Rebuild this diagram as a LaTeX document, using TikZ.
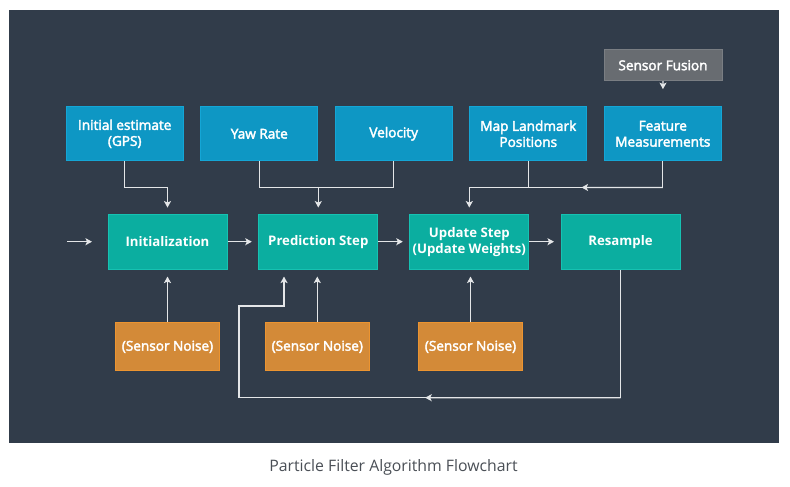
\documentclass[tikz,border=0pt]{standalone}
\usepackage{fontspec}
\setmainfont{Open Sans}
\newcommand\semib{\special{pdf:literal direct 2 Tr 0.38 w 1 1 1 RG}}
\usetikzlibrary{arrows.meta,calc}
\definecolor{bg}{HTML}{313C4A}
\definecolor{cblue}{HTML}{0E97C4}
\definecolor{cblueb}{HTML}{14A6D6}
\definecolor{cteal}{HTML}{0BAEA0}
\definecolor{ctealb}{HTML}{16C2B2}
\definecolor{corange}{HTML}{D38A38}
\definecolor{corangeb}{HTML}{EC9430}
\definecolor{cgray}{HTML}{686C71}
\definecolor{cgrayb}{HTML}{7A7E83}
\definecolor{cline}{HTML}{E4E6E8}
\definecolor{ccap}{HTML}{4A4F56}
\tikzset{
  box/.style={draw, line width=1pt, text=white, align=center, inner sep=0pt,
    font=\fontsize{13.6}{16}\selectfont},
  softtext/.style={execute at begin node=\semib, execute at end node=\special{pdf:literal direct 0 Tr}},
  inbox/.style={box, softtext, fill=cblue, draw=cblueb, minimum width=117.3pt, minimum height=54.3pt},
  stepbox/.style={box, fill=cteal, draw=ctealb, minimum width=119pt, minimum height=55.3pt,
    font=\fontsize{13.2}{16}\bfseries},
  noisebox/.style={box, softtext, fill=corange, draw=corangeb, minimum width=103.7pt, minimum height=48.3pt},
  fusebox/.style={box, softtext, fill=cgray, draw=cgrayb, minimum width=118pt, minimum height=30.7pt},
  wire/.style={draw=cline, line width=1.3pt},
  arr/.style={wire, -{Stealth[length=6.5pt,width=7pt,inset=1.5pt]}},
}
\begin{document}
\begin{tikzpicture}[x=1pt,y=-1pt]
\useasboundingbox (0,0) rectangle (790,487);
\fill[white] (0,0) rectangle (790,487);
\fill[bg] (9,10) rectangle (779,443);

% top inputs
\node[inbox] (gps) at (124.7,133.8) {Initial estimate\\(GPS)};
\node[inbox] (yaw) at (259.3,133.8) {Yaw Rate};
\node[inbox] (vel) at (393.7,133.8) {Velocity};
\node[inbox] (map) at (528.3,133.8) {Map Landmark\\Positions};
\node[inbox] (feat) at (662.8,133.8) {Feature\\Measurements};
\node[fusebox] (fuse) at (663,65.3) {Sensor Fusion};

% steps
\node[stepbox] (init) at (167.5,241.7) {Initialization};
\node[stepbox] (pred) at (318.3,241.7) {Prediction Step};
\node[stepbox] (upd) at (469.3,241.7) {Update Step\\(Update Weights)};
\node[stepbox] (res) at (620.5,241.7) {Resample};

% noise
\node[noisebox] (sn1) at (167.5,346.8) {(Sensor Noise)};
\node[noisebox] (sn2) at (317.3,346.8) {(Sensor Noise)};
\node[noisebox] (sn3) at (470.5,346.8) {(Sensor Noise)};

% caption
\node[font=\fontsize{15.8}{18}\selectfont, text=ccap, inner sep=0pt, anchor=base] (cap) at (393.5,471.5) {Particle Filter Algorithm Flowchart};

% entry
\coordinate (start) at (67,241.7);
\draw[arr, shorten >=15.5pt] (start) -- (init.west);

% main chain
\draw[arr, shorten >=6.5pt] (init.east) -- (pred.west);
\draw[arr, shorten >=6.5pt] (pred.east) -- (upd.west);
\draw[arr, shorten >=6.5pt] (upd.east) -- (res.west);

% top connectors
\draw[arr, shorten >=6pt] (gps.south) -- ++(0,26) -| (init.north);
\draw[wire] (yaw.south) -- ++(0,26) coordinate (yj) -| (vel.south);
\draw[arr, shorten >=6pt] (yj -| pred.north) -- (pred.north);
\draw[arr, shorten >=6pt] (feat.south) -- ++(0,26) coordinate (fj) -| (upd.north);
\draw[arr] (fj) -- ($(fj)!0.42!(fj -| upd.north)$);
\draw[wire] (map.south) -- (map.south |- fj);
\draw[arr, shorten >=17pt] (fuse.south) -- (feat.north);

% noise connectors
\draw[arr, shorten >=6.7pt] (sn1.north) -- (sn1.north |- init.south);
\draw[arr, shorten >=6.7pt] (sn2.north) -- (sn2.north |- pred.south);
\draw[arr, shorten >=6.7pt] (sn3.north) -- (sn3.north |- upd.south);

% feedback loop
\coordinate (fbl) at (239,397.7);
\coordinate (fbu) at (284,306);
\draw[arr, shorten >=6.7pt] (res.south) |- (fbl) |- (fbu) -- (fbu |- pred.south);
\draw[arr] (res.south |- fbl) -- ($(res.south |- fbl)!0.512!(fbl)$);
\end{tikzpicture}
\end{document}
